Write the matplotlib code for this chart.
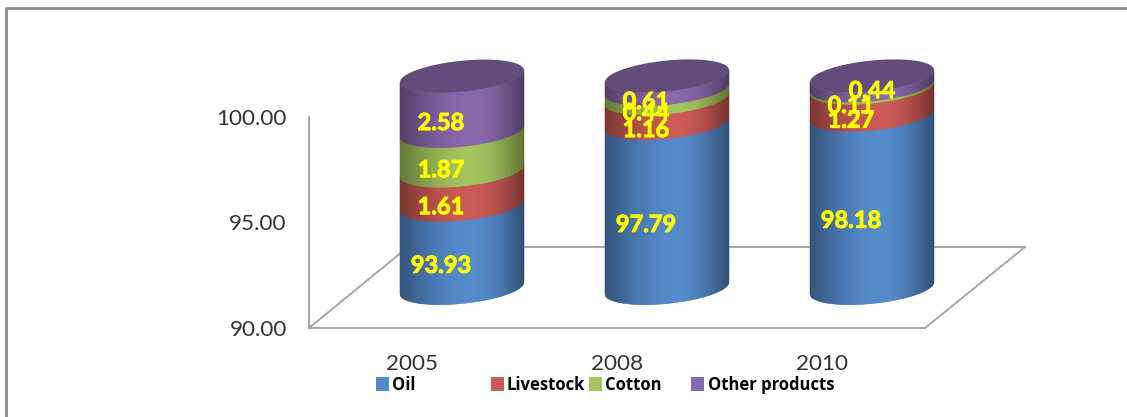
"""Stacked 3D-style cylinders: export shares by product, 2005-2010."""
import numpy as np
import matplotlib
matplotlib.use('Agg')
import matplotlib.pyplot as plt
import matplotlib.patheffects as pe
from matplotlib.collections import PolyCollection
from matplotlib.lines import Line2D
from matplotlib.patches import Rectangle
from matplotlib.transforms import Affine2D

W, H = 1127, 417

YEARS = ['2005', '2008', '2010']
PRODUCTS = ['Oil', 'Livestock', 'Cotton', 'Other products']
OIL = [93.93, 97.79, 98.18]
LIVESTOCK = [1.61, 1.16, 1.27]
COTTON = [1.87, 0.44, 0.11]
OTHER = [2.58, 0.61, 0.44]
SERIES = [OIL, LIVESTOCK, COTTON, OTHER]
COLORS = ['#558ACB', '#CC5A56', '#A4C45E', '#8968AC']
LID_COLOR = '#624C7C'
Y_TICKS = [90, 95, 100]
GRAY = '#A6A6A6'

BASE = 90
PX_X = 205.0   # pixels per category
PX_Y = 21.2    # pixels per value unit
CX0, BASE_Y = 462, 288
A = 62 / PX_X        # half width of a cylinder
B = 15.5 / PX_Y      # half height of its ellipse
TILT = 6 / PX_Y      # rise of the ellipse at its right end
N_STRIPS = 124

plt.rcParams['font.family'] = ['Lato', 'DejaVu Sans']

fig = plt.figure(figsize=(W / 100, H / 100), dpi=100)
px = Affine2D().scale(1, -1).translate(0, H)  # top-left pixel coordinates


def gpos(left, top, right, bottom):
    return [left / W, 1 - bottom / H, (right - left) / W, (bottom - top) / H]


# front plane: carries the value axis and the year labels
front = fig.add_axes(gpos(309, 117, 925, 328), zorder=1)
front.patch.set_alpha(0)
front.set_xlim(-0.5, 2.5)
front.set_ylim(90, 100)
front.spines[['top', 'right']].set_visible(False)
front.spines[['left', 'bottom']].set_color(GRAY)
front.spines[['left', 'bottom']].set_linewidth(1.4)
front.set_yticks(Y_TICKS, [f'{v:.2f}' for v in Y_TICKS], fontsize=16.2, color='#333333')
front.set_xticks(range(3), YEARS, fontsize=16.2, color='#333333')
front.tick_params(length=0, pad=16, axis='y')
front.tick_params(length=0, pad=18.5, axis='x')

# floor outline
for xs, ys in [((309, 408), (328, 247)), ((408, 1025), (247, 247)), ((1025, 925), (247, 328))]:
    fig.add_artist(Line2D(xs, ys, transform=px, color=GRAY, lw=1.4, zorder=0.5))

# outer frame, open on the right and at the bottom
fig.add_artist(Line2D((6, 6, W), (H, 8, 8), transform=px, color='#8C8C8C', lw=2))

# cylinder plane
ax = fig.add_axes([0, 0, 1, 1], zorder=2)
ax.patch.set_alpha(0)
ax.axis('off')
ax.set_xlim((0 - CX0) / PX_X, (W - CX0) / PX_X)
ax.set_ylim(BASE - (H - BASE_Y) / PX_Y, BASE + BASE_Y / PX_Y)


def shade(color, u):
    """Horizontal gradient: dark rims, lighter just right of the middle."""
    rgb = np.array(matplotlib.colors.to_rgb(color))
    f = np.where(u < 0.58, 0.60 + 0.40 * np.sin(u / 0.58 * np.pi / 2),
                 0.58 + 0.42 * np.cos((u - 0.58) / 0.42 * np.pi / 2))
    return rgb[None, :] * f[:, None]


def front_edge(dx, level):
    """Lower half of the tilted ellipse at a given value."""
    return level + TILT * dx / A - B * np.sqrt(np.clip(1 - (dx / A) ** 2, 0, 1))


def draw_segment(i, low, high, color):
    edges = np.linspace(-A, A, N_STRIPS + 1)
    quads = []
    for d0, d1 in zip(edges[:-1], edges[1:]):
        quads.append([(i + d0, front_edge(d0, low)), (i + d1, front_edge(d1, low)),
                      (i + d1, front_edge(d1, high)), (i + d0, front_edge(d0, high))])
    u = (edges[:-1] + edges[1:]) / (4 * A) + 0.5
    colors = shade(color, u)
    ax.add_collection(PolyCollection(quads, facecolors=colors, edgecolors=colors,
                                     linewidths=0.4, zorder=3))


for i in range(len(YEARS)):
    level = 0
    for color, values in zip(COLORS, SERIES):
        draw_segment(i, max(level, BASE), level + values[i], color)
        level += values[i]
    t = np.linspace(0, 2 * np.pi, 120)
    ax.fill(i + A * np.cos(t), level + TILT * np.cos(t) + B * np.sin(t),
            color=LID_COLOR, lw=0, zorder=4)

# value labels sit low and left of each segment's middle
for i in range(len(YEARS)):
    level = 0
    for s, values in enumerate(SERIES):
        v = values[i]
        dx, dy = -21, -19
        if i == 2 and s == 3:
            dx, dy = 0, -10
        ax.annotate(f'{v:.2f}', (i, (max(level, BASE) + level + v) / 2),
                    xytext=(dx * 0.72, dy * 0.72),
                    textcoords='offset points', ha='center', va='center',
                    color='#FFFF00', fontsize=17, fontweight='bold', zorder=5,
                    path_effects=[pe.withStroke(linewidth=0.7, foreground='#FFFF00')])
        level += v

# legend row
SWATCH_X = [376, 491, 589, 691]
TEXT_X = [392, 506, 605, 708]
for name, color, sx, tx in zip(PRODUCTS, COLORS, SWATCH_X, TEXT_X):
    fig.add_artist(Rectangle((sx, 377), 13, 14, transform=px, facecolor=color, edgecolor='none'))
    fig.text(tx / W, 1 - 385 / H, name, fontsize=12, fontweight='bold', va='center',
             color='black', family=['Open Sans', 'DejaVu Sans'])

fig.savefig('out.png', dpi=100)
